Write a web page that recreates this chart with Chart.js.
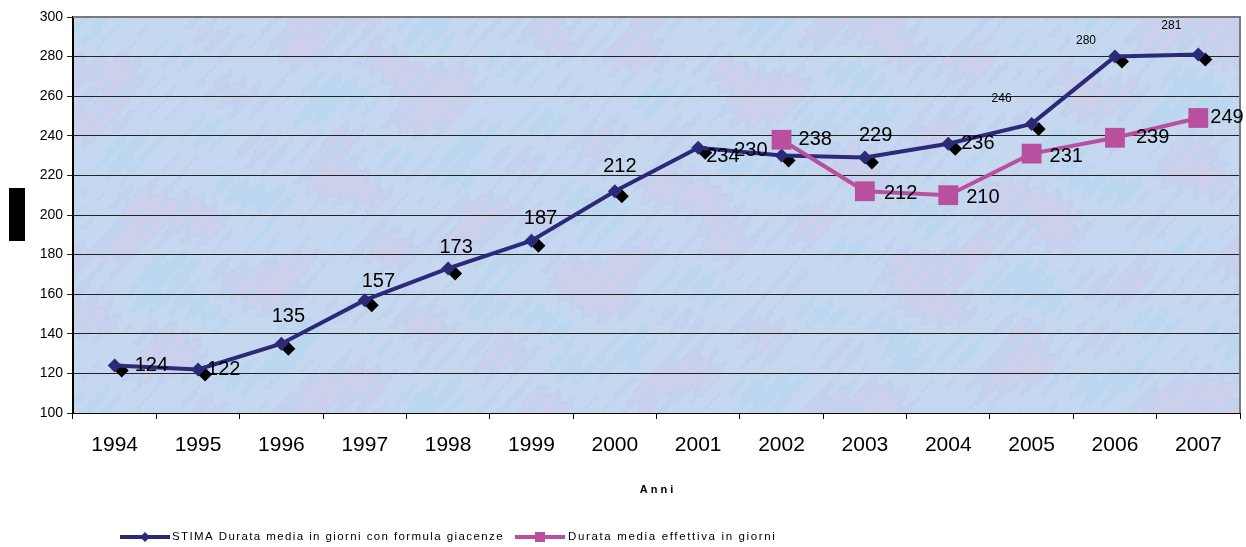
<!DOCTYPE html>
<html>
<head>
<meta charset="utf-8">
<script src="https://cdn.jsdelivr.net/npm/chart.js@4.4.1/dist/chart.umd.min.js"></script>
<style>
  html, body { margin: 0; padding: 0; background: #fff; }
  #wrap { width: 1246px; height: 547px; }
</style>
</head>
<body>
<div id="wrap"><canvas id="grafico"></canvas></div>
<script>
const anni = ["1994", "1995", "1996", "1997", "1998", "1999", "2000", "2001", "2002", "2003", "2004", "2005", "2006", "2007"];
const stima = [124, 122, 135, 157, 173, 187, 212, 234, 230, 229, 236, 246, 280, 281];
const effettiva = [null, null, null, null, null, null, null, null, 238, 212, 210, 231, 239, 249];
const nomeStima = "STIMA Durata media in giorni con formula giacenze";
const nomeEffettiva = "Durata media effettiva in giorni";

const BLU = '#2b2a78';
const ROSA = '#b9509f';

// posizione delle etichette rispetto al punto: [dx, dy, allineamento, piccola]
const posStima = [
  [20, 0, 'left'], [9, 0, 'left'], [7, -27, 'center'], [-3, -19, 'left'],
  [8, -21, 'center'], [9, -22, 'center'], [5, -25, 'center'], [8, 9, 'left'],
  [-14, -5, 'right'], [-6, -22, 'left'], [13, 0, 'left'],
  [-30, -25, 'center', true], [-29, -16, 'center', true], [-27, -29, 'center', true]
];
const posEffettiva = [
  null, null, null, null, null, null, null, null,
  [17, 0, 'left'], [19, 2, 'left'], [18, 2, 'left'], [18, 3, 'left'], [21, 0, 'left'], [12, 0, 'left']
];

const sfondo = {
  id: 'sfondo',
  beforeDraw(chart) {
    const { ctx, chartArea: a } = chart;
    ctx.save();
    ctx.fillStyle = '#c6d8ef';
    ctx.fillRect(a.left, a.top, a.right - a.left, a.bottom - a.top);
    // leggera marezzatura
    for (let x = a.left; x < a.right; x += 4) {
      for (let y = a.top; y < a.bottom; y += 4) {
        const v = Math.sin(x * 0.021 + Math.sin(y * 0.05) * 2) + Math.sin(y * 0.033 + Math.cos(x * 0.037) * 2) + 0.6 * Math.sin(x * 0.31 + y * 0.27);
        if (v > 1.3) ctx.fillStyle = 'rgba(220,190,222,0.3)';
        else if (v < -1.3) ctx.fillStyle = 'rgba(170,215,242,0.4)';
        else if (v > 0.5) ctx.fillStyle = 'rgba(175,178,225,0.18)';
        else continue;
        ctx.fillRect(x, y, 4, 4);
      }
    }
    ctx.restore();
  },
  beforeDatasetsDraw(chart) {
    const { ctx } = chart;
    const meta = chart.getDatasetMeta(0);
    ctx.save();
    ctx.fillStyle = '#000';
    meta.data.forEach(p => {
      const x = p.x + 7, y = p.y + 5, r = 7;
      ctx.beginPath();
      ctx.moveTo(x, y - r); ctx.lineTo(x + r, y); ctx.lineTo(x, y + r); ctx.lineTo(x - r, y);
      ctx.closePath(); ctx.fill();
    });
    ctx.restore();
  },
  afterDraw(chart) {
    const { ctx, chartArea: a } = chart;
    ctx.save();
    // bordo destro e superiore
    ctx.strokeStyle = '#7a7a7a';
    ctx.lineWidth = 2;
    ctx.beginPath();
    ctx.moveTo(a.left, a.top); ctx.lineTo(a.right, a.top); ctx.lineTo(a.right, a.bottom);
    ctx.stroke();

    // etichette dei valori
    ctx.fillStyle = '#000';
    ctx.textBaseline = 'middle';
    const etichette = (idx, valori, pos) => {
      const meta = chart.getDatasetMeta(idx);
      meta.data.forEach((p, i) => {
        if (valori[i] == null || !pos[i]) return;
        const [dx, dy, al, piccola] = pos[i];
        ctx.font = piccola ? '12px "Liberation Sans", Arial' : '20px "Liberation Sans", Arial';
        ctx.textAlign = al;
        ctx.fillText(String(valori[i]), p.x + dx, p.y + dy);
      });
    };
    etichette(0, stima, posStima);
    etichette(1, effettiva, posEffettiva);

    // titolo asse y oscurato
    ctx.fillStyle = '#000';
    ctx.fillRect(9, 188, 16, 53);

    // legenda
    const ly = 537;
    ctx.lineWidth = 4;
    ctx.strokeStyle = BLU;
    ctx.beginPath(); ctx.moveTo(120, ly); ctx.lineTo(170, ly); ctx.stroke();
    ctx.fillStyle = BLU;
    ctx.beginPath();
    ctx.moveTo(145, ly - 5); ctx.lineTo(150, ly); ctx.lineTo(145, ly + 5); ctx.lineTo(140, ly);
    ctx.closePath(); ctx.fill();
    ctx.strokeStyle = ROSA;
    ctx.beginPath(); ctx.moveTo(515, ly); ctx.lineTo(565, ly); ctx.stroke();
    ctx.fillStyle = ROSA;
    ctx.fillRect(535, ly - 5, 10, 10);
    ctx.fillStyle = '#000';
    ctx.font = '11.5px "Liberation Sans", Arial';
    ctx.textAlign = 'left';
    ctx.letterSpacing = '1.4px';
    ctx.fillText(nomeStima, 172, ly);
    ctx.letterSpacing = '1.65px';
    ctx.fillText(nomeEffettiva, 568, ly);
    ctx.letterSpacing = '0px';
    ctx.restore();
  }
};

new Chart(document.getElementById('grafico'), {
  type: 'line',
  data: {
    labels: anni,
    datasets: [
      {
        label: nomeStima,
        data: stima,
        borderColor: BLU,
        backgroundColor: BLU,
        borderWidth: 4,
        pointStyle: 'rectRot',
        pointRadius: 7,
        pointBorderWidth: 0,
        tension: 0,
        order: 1
      },
      {
        label: nomeEffettiva,
        data: effettiva,
        borderColor: ROSA,
        backgroundColor: ROSA,
        borderWidth: 4,
        pointStyle: 'rect',
        pointRadius: 14,
        pointBorderWidth: 0,
        tension: 0,
        order: 0
      }
    ]
  },
  options: {
    responsive: true,
    maintainAspectRatio: false,
    animation: false,
    layout: { autoPadding: false, padding: { top: 17, right: 6, left: 0, bottom: 0 } },
    scales: {
      x: {
        offset: true,
        grid: { display: true, drawOnChartArea: false, offset: true, color: '#000', tickLength: 6 },
        border: { color: '#000', width: 1 },
        ticks: { color: '#000', font: { size: 21, family: '"Liberation Sans", Arial' }, padding: 14, maxRotation: 0 },
        title: {
          display: true,
          text: 'A n n i',
          color: '#000',
          font: { size: 11, weight: 'bold', family: '"Liberation Sans", Arial' },
          padding: { top: 0, bottom: 50 }
        },
        afterFit(s) { s.height = 134; }
      },
      y: {
        min: 100,
        max: 300,
        grid: { color: '#222', lineWidth: 1, tickLength: 6 },
        border: { color: '#000', width: 2 },
        ticks: { stepSize: 20, color: '#000', font: { size: 14, family: '"Liberation Sans", Arial' }, padding: 4 },
        afterFit(s) { s.width = 73; }
      }
    },
    plugins: {
      legend: { display: false },
      tooltip: { enabled: false }
    }
  },
  plugins: [sfondo]
});
</script>
</body>
</html>
